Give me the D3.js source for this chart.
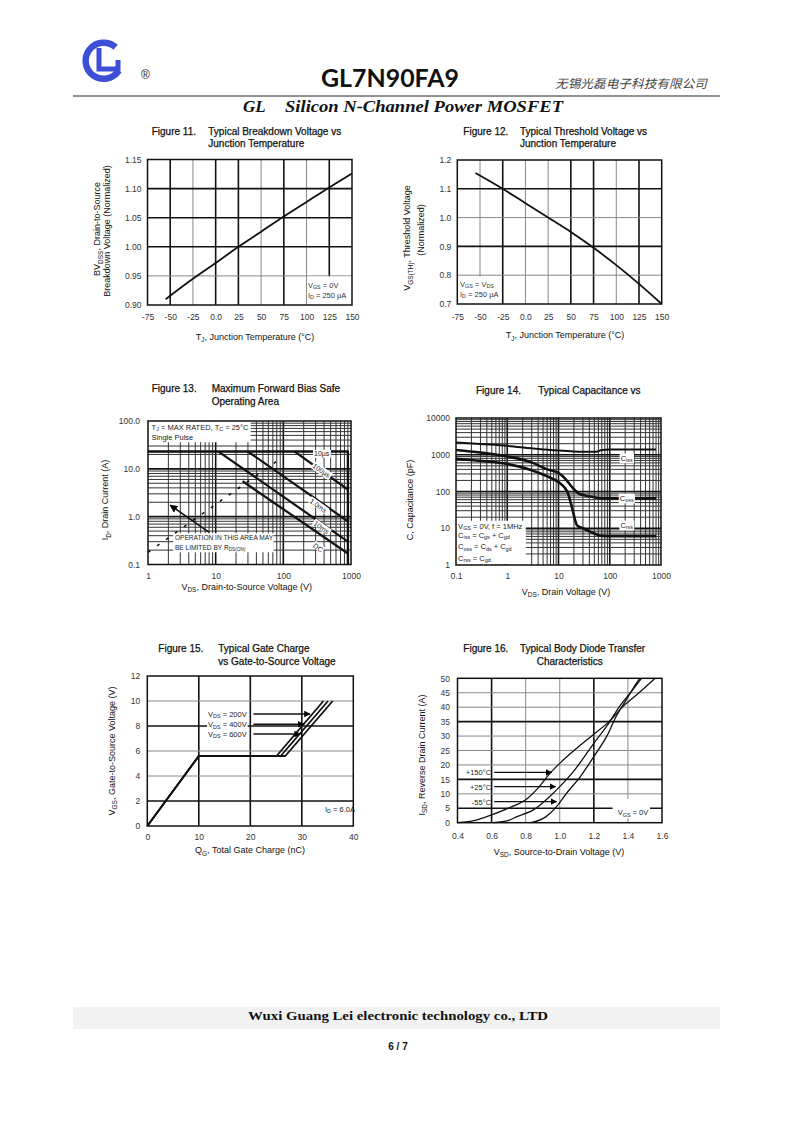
<!DOCTYPE html>
<html><head><meta charset="utf-8">
<script src="https://cdn.jsdelivr.net/npm/d3@7"></script>
<style>body{margin:0;background:#fff}svg{display:block}</style>
</head><body>
<svg id="page" width="793" height="1122"></svg>
<script>
// ---------- DATA ----------
// Figure 11
const tempTicks = [-75,-50,-25,0,25,50,75,100,125,150];
const tempTickLabels = ["-75","-50","-25","0.0","25","50","75","100","125","150"];
const bvTemp = [-55,-25,0,25,50,75,100,125,150];
const bvNorm = [0.910,0.945,0.972,1.000,1.026,1.052,1.077,1.102,1.126];
const bvTicks = [0.90,0.95,1.00,1.05,1.10,1.15];
const bvTickLabels = ["0.90","0.95","1.00","1.05","1.10","1.15"];
// Figure 12
const vthTemp = [-55,-25,0,25,50,75,100,125,150];
const vthNorm = [1.155,1.100,1.050,1.000,0.950,0.895,0.835,0.770,0.700];
const vthTicks = [0.7,0.8,0.9,1.0,1.1,1.2];
const vthTickLabels = ["0.7","0.8","0.9","1.0","1.1","1.2"];
// Figure 13
const soaXTicks = [1,10,100,1000];
const soaXTickLabels = ["1","10","100","1000"];
const soaYTicks = [0.1,1,10,100];
const soaYTickLabels = ["0.1","1.0","10.0","100.0"];
const soaLimitV = [1,900,900];
const soaLimitI = [23,23,0.1];
const soa100usV = [147,900];
const soa100usI = [23,3.7];
const soa1msV = [30,900];
const soa1msI = [23,0.8];
const soa10msV = [11,900];
const soa10msI = [23,0.3];
const soaDcV = [25,900];
const soaDcI = [5.5,0.17];
const rdsLimitV = [1,80];
const rdsLimitI = [0.18,14.5];
const soaArrowV = [8,2.13];
const soaArrowI = [0.47,1.74];
const soaLabels = ["10µs","100µs","1.0ms","10ms","DC"];
const soaLabelV = [369,369,330,369,330];
const soaLabelI = [21,9.4,1.73,0.61,0.23];
// Figure 14
const capXTicks = [0.1,1,10,100,1000];
const capXTickLabels = ["0.1","1","10","100","1000"];
const capYTicks = [1,10,100,1000,10000];
const capYTickLabels = ["1","10","100","1000","10000"];
const cissV = [0.1,0.3,1,3,10,20,40,55,70,100,300,800];
const cissC = [2150,1950,1750,1500,1300,1230,1200,1210,1350,1380,1380,1380];
const cossV = [0.1,0.3,1,3,6,10,14,17,20,25,30,45,60,100,800];
const cossC = [1350,1150,900,620,400,320,210,150,115,88,80,72,66,65,65];
const crssV = [0.1,0.3,1,3,6,10,13,15,17,19,21,23,30,50,70,100,800];
const crssC = [780,680,560,380,260,180,130,95,55,30,17,12,10,7.2,6.2,6.1,6.1];
const capLabels = ["C_{iss}","C_{oss}","C_{rss}"];
const capLabelV = [214,214,214];
const capLabelC = [817,66,12.2];
// Figure 15
const gcXTicks = [0,10,20,30,40];
const gcYTicks = [0,2,4,6,8,10,12];
const gcQ200 = [0,10,25.1,34.2];
const gcQ400 = [0,10,25.9,35.1];
const gcQ600 = [0,10,26.8,36.0];
const gcVgs = [0,5.6,5.6,10];
const gcLabels = ["V_{DS} = 200V","V_{DS} = 400V","V_{DS} = 600V"];
const gcArrowVgs = [8.96,8.14,7.36];
const gcArrowTipQ = [31.6,30.4,29.7];
// Figure 16
const sdXTicks = [0.4,0.6,0.8,1.0,1.2,1.4,1.6];
const sdXTickLabels = ["0.4","0.6","0.8","1.0","1.2","1.4","1.6"];
const sdYTicks = [0,5,10,15,20,25,30,35,40,45,50];
const sdV150 = [0.40,0.51,0.60,0.71,0.81,0.88,0.94,1.01,1.10,1.20,1.30,1.37,1.45,1.56];
const sdI150 = [0,0.9,2.7,5.3,8.4,12.5,16.9,21.1,25.8,30.6,35.6,40.2,44.2,50];
const sdV25 = [0.61,0.70,0.75,0.85,0.94,1.00,1.08,1.20,1.28,1.35,1.42,1.48];
const sdI25 = [0,0.8,2.1,4.6,9.0,12.5,17.7,27.5,33.8,40.2,45.4,50];
const sdVm55 = [0.83,0.92,0.98,1.04,1.12,1.20,1.28,1.33,1.39,1.45,1.47];
const sdIm55 = [0,2.1,5.5,10.2,15.9,22.9,30.4,36.7,42.5,48.3,50];
const sdLabels = ["+150°C","+25°C","-55°C"];
const sdArrowI = [17.4,12.5,7.3];
const sdArrowTipV = [0.953,0.975,0.982];

// ---------- HELPERS ----------
const FONT = "'Liberation Sans', Arial, sans-serif";
const svg = d3.select('#page');
const defs = svg.append('defs');
defs.append('marker').attr('id','tri').attr('viewBox','0 0 10 10')
  .attr('refX',9).attr('refY',5).attr('markerWidth',5).attr('markerHeight',5)
  .attr('orient','auto').append('path').attr('d','M0,0L10,5L0,10Z').attr('fill','#000');

function rich(t, str, fs) {
  const parts = str.split(/(_\{[^}]*\})/).filter(s => s.length);
  let shifted = false;
  parts.forEach(p => {
    if (p.startsWith('_{')) {
      t.append('tspan').attr('font-size', fs*0.72).attr('dy', fs*0.3).text(p.slice(2,-1));
      shifted = true;
    } else {
      const s = t.append('tspan').text(p);
      if (shifted) { s.attr('dy', -fs*0.3); shifted = false; }
    }
  });
}
function label(g, x, y, str, o = {}) {
  const fs = o.size || 8;
  const t = g.append('text').attr('x', x).attr('y', y)
    .attr('font-family', o.family || FONT).attr('font-size', fs)
    .attr('fill', o.fill || '#111').attr('text-anchor', o.anchor || 'start')
    .attr('dominant-baseline', 'central');
  if (o.weight) t.attr('font-weight', o.weight);
  if (o.style) t.attr('font-style', o.style);
  if (o.stroke) t.attr('stroke', o.fill || '#111').attr('stroke-width', o.stroke);
  if (o.rotate) t.attr('transform', `rotate(${o.rotate},${x},${y})`);
  if (o.len) t.attr('textLength', o.len).attr('lengthAdjust', 'spacingAndGlyphs');
  rich(t, str, fs);
  return t;
}
function bgLabel(g, x, y, str, o = {}) {
  const t = label(g, x, y, str, o);
  const b = t.node().getBBox();
  const r = g.insert('rect', () => t.node()).attr('x', b.x-1).attr('y', b.y)
    .attr('width', b.width+2).attr('height', b.height).attr('fill', '#fff');
  if (o.rotate) r.attr('transform', `rotate(${o.rotate},${x},${y})`);
  return t;
}
function gridLines(g, x, y, xs, ys, heavyX, heavyY, hw = 1.6, lw = 1, lc = '#888') {
  const [yb, yt] = y.range(), [xl, xr] = x.range();
  xs.forEach(v => g.append('line').attr('x1', x(v)).attr('x2', x(v)).attr('y1', yb).attr('y2', yt)
    .attr('stroke', heavyX(v) ? '#111' : lc).attr('stroke-width', heavyX(v) ? hw : lw));
  ys.forEach(v => g.append('line').attr('y1', y(v)).attr('y2', y(v)).attr('x1', xl).attr('x2', xr)
    .attr('stroke', heavyY(v) ? '#111' : lc).attr('stroke-width', heavyY(v) ? hw : lw));
}
function frame(g, x, y) {
  const [yb, yt] = y.range(), [xl, xr] = x.range();
  g.append('rect').attr('x', xl).attr('y', yt).attr('width', xr-xl).attr('height', yb-yt)
    .attr('fill', 'none').attr('stroke', '#111').attr('stroke-width', 1.5);
}
function axes(g, x, y, xt, xl, yt, yl, padX, padY) {
  const gx = g.append('g').attr('transform', `translate(0,${y.range()[0]})`)
    .call(d3.axisBottom(x).tickValues(xt).tickFormat(d => xl[xt.indexOf(d)]).tickSize(0).tickPadding(padX));
  const gy = g.append('g').attr('transform', `translate(${x.range()[0]},0)`)
    .call(d3.axisLeft(y).tickValues(yt).tickFormat(d => yl[yt.indexOf(d)]).tickSize(0).tickPadding(padY));
  [gx, gy].forEach(a => {
    a.select('.domain').remove();
    a.selectAll('text').attr('font-family', FONT).attr('font-size', 8.5).attr('fill', '#333');
  });
}
function box(g, x, y, v0, v1, u0, u1) {
  g.append('rect').attr('x', x(v0)).attr('y', y(u1)).attr('width', x(v1)-x(v0))
    .attr('height', y(u0)-y(u1)).attr('fill', '#fff');
}
function curve(g, x, y, xs, ys, w, c = d3.curveMonotoneX) {
  const pts = xs.map((v, i) => [v, ys[i]]);
  g.append('path').datum(pts).attr('fill', 'none').attr('stroke', '#111')
    .attr('stroke-width', w).attr('stroke-linejoin', 'round')
    .attr('d', d3.line().x(d => x(d[0])).y(d => y(d[1])).curve(c));
}
function title(g, fx, tx, y, fig, lines, l2x) {
  label(g, fx, y, fig, {size: 10, stroke: 0.25});
  label(g, tx, y, lines[0], {size: 10, stroke: 0.25});
  if (lines[1]) label(g, l2x || tx, y + 12.6, lines[1], {size: 10, stroke: 0.25});
}
function logTicks(lo, hi) {
  const out = [];
  for (let d = lo; d < hi * 0.999; d *= 10) for (let k = 1; k < 10; k++) out.push(d * k);
  out.push(hi); return out;
}
const isDecade = v => Math.abs(Math.log10(v) - Math.round(Math.log10(v))) < 1e-6;

// ---------- HEADER ----------
const hdr = svg.append('g');
const blue = '#3d4fd6';
hdr.append('path').attr('d', 'M115.6,47.3 A18,18 0 1 0 118.8,70.5')
  .attr('fill', 'none').attr('stroke', blue).attr('stroke-width', 6.5);
hdr.append('path').attr('d', 'M99,48 L99,69 L118,69 L118,60')
  .attr('fill', 'none').attr('stroke', blue).attr('stroke-width', 5);
label(hdr, 141, 75, '®', {size: 12, fill: '#222'});
label(hdr, 390, 77, 'GL7N90FA9', {size: 24, weight: 'bold', family: "Lato, 'Open Sans', sans-serif", anchor: 'middle', len: 138});
label(hdr, 555, 82, '无锡光磊电子科技有限公司', {size: 12, family: "'Noto Sans CJK SC', sans-serif", style: 'italic', fill: '#444', len: 152});
hdr.append('line').attr('x1', 73).attr('x2', 720).attr('y1', 96).attr('y2', 96).attr('stroke', '#222').attr('stroke-width', 1);
label(hdr, 243, 106, 'GL', {size: 17, weight: 'bold', style: 'italic', family: "'Liberation Serif', 'Times New Roman', serif"});
label(hdr, 285, 106, 'Silicon N-Channel Power MOSFET', {size: 17, weight: 'bold', style: 'italic', family: "'Liberation Serif', 'Times New Roman', serif", len: 278});

// ---------- FIGURE 11 ----------
{
  const g = svg.append('g');
  const x = d3.scaleLinear([-75, 150], [147.5, 352]);
  const y = d3.scaleLinear([0.90, 1.15], [305, 159.5]);
  title(g, 151.7, 208.3, 130.7, 'Figure 11.', ['Typical Breakdown Voltage vs', 'Junction Temperature']);
  const heavyX = new Set([-50, 0, 25, 75, 125]);
  const heavyY = new Set([1.00, 1.05, 1.10]);
  gridLines(g, x, y, tempTicks.slice(1, -1), bvTicks.slice(1, -1), v => heavyX.has(v), v => heavyY.has(v));
  box(g, x, y, 100.8, 150, 0.90, 0.949);
  label(g, x(101.5), y(0.935), 'V_{GS} = 0V', {size: 7.5, fill: '#333'});
  label(g, x(101.5), y(0.918), 'I_{D} = 250 µA', {size: 7.5, fill: '#333'});
  curve(g, x, y, bvTemp, bvNorm, 1.8);
  frame(g, x, y);
  axes(g, x, y, tempTicks, tempTickLabels, bvTicks, bvTickLabels, 9, 6);
  label(g, 97.3, 229, 'BV_{DSS}, Drain-to-Source', {size: 9, anchor: 'middle', rotate: -90});
  label(g, 107.3, 231, 'Breakdown Voltage (Normalized)', {size: 9, anchor: 'middle', rotate: -90});
  label(g, 255, 336.7, 'T_{J}, Junction Temperature (°C)', {size: 9, anchor: 'middle'});
}

// ---------- FIGURE 12 ----------
{
  const g = svg.append('g');
  const x = d3.scaleLinear([-75, 150], [457.3, 661.7]);
  const y = d3.scaleLinear([0.7, 1.2], [304, 160]);
  title(g, 463.3, 520, 130.7, 'Figure 12.', ['Typical Threshold Voltage vs', 'Junction Temperature']);
  const heavyX = new Set([-25, 50, 75, 125]);
  const heavyY = new Set([1.1, 0.9]);
  gridLines(g, x, y, tempTicks.slice(1, -1), vthTicks.slice(1, -1), v => heavyX.has(v), v => heavyY.has(v));
  box(g, x, y, -75, -27, 0.7, 0.795);
  label(g, x(-72), y(0.769), 'V_{GS} = V_{DS}', {size: 7.5, fill: '#333'});
  label(g, x(-72), y(0.736), 'I_{D} = 250 µA', {size: 7.5, fill: '#333'});
  curve(g, x, y, vthTemp, vthNorm, 1.8);
  frame(g, x, y);
  axes(g, x, y, tempTicks, tempTickLabels, vthTicks, vthTickLabels, 10, 6);
  label(g, 407.3, 238, 'V_{GS(TH)}, Threshold Voltage', {size: 9, anchor: 'middle', rotate: -90});
  label(g, 420.7, 230, '(Normalized)', {size: 9, anchor: 'middle', rotate: -90});
  label(g, 565, 335, 'T_{J}, Junction Temperature (°C)', {size: 9, anchor: 'middle'});
}

// ---------- FIGURE 13 ----------
{
  const g = svg.append('g');
  const x = d3.scaleLog([1, 1000], [148, 351]);
  const y = d3.scaleLog([0.1, 100], [564.5, 421]);
  title(g, 151.7, 211.7, 388.3, 'Figure 13.', ['Maximum Forward Bias Safe', 'Operating Area']);
  const xs = logTicks(1, 1000).slice(1, -1), ys = logTicks(0.1, 100).slice(1, -1);
  gridLines(g, x, y, xs, ys, isDecade, isDecade, 1.6, 1, '#333');
  box(g, x, y, 1.01, 33, 36, 99);
  label(g, x(1.13), y(76), 'T_{J} = MAX RATED, T_{C} = 25°C', {size: 7.5, fill: '#222'});
  label(g, x(1.13), y(47), 'Single Pulse', {size: 7.5, fill: '#222'});
  box(g, x, y, 2.36, 72, 0.18, 0.45);
  label(g, x(2.5), y(0.37), 'OPERATION IN THIS AREA MAY', {size: 6.6, fill: '#222'});
  label(g, x(2.5), y(0.23), 'BE LIMITED BY R_{DS(ON)}', {size: 6.6, fill: '#222'});
  const lin = d3.curveLinear;
  curve(g, x, y, soaLimitV, soaLimitI, 2.4, lin);
  curve(g, x, y, soa100usV, soa100usI, 2.2, lin);
  curve(g, x, y, soa1msV, soa1msI, 2.2, lin);
  curve(g, x, y, soa10msV, soa10msI, 2.2, lin);
  curve(g, x, y, soaDcV, soaDcI, 2.2, lin);
  g.append('path').datum(rdsLimitV.map((v, i) => [v, rdsLimitI[i]]))
    .attr('fill', 'none').attr('stroke', '#111').attr('stroke-width', 1.6).attr('stroke-dasharray', '3 8')
    .attr('d', d3.line().x(d => x(d[0])).y(d => y(d[1])));
  g.append('path').datum(soaArrowV.map((v, i) => [v, soaArrowI[i]]))
    .attr('fill', 'none').attr('stroke', '#111').attr('stroke-width', 1.6).attr('marker-end', 'url(#tri)')
    .attr('d', d3.line().x(d => x(d[0])).y(d => y(d[1])));
  soaLabels.forEach((s, i) => bgLabel(g, x(soaLabelV[i]), y(soaLabelI[i]), s,
    {size: 7, fill: '#222', anchor: 'middle', rotate: i === 0 ? 0 : 35}));
  frame(g, x, y);
  axes(g, x, y, soaXTicks, soaXTickLabels, soaYTicks, soaYTickLabels, 8.5, 8);
  label(g, 105, 500, 'I_{D}, Drain Current (A)', {size: 9, anchor: 'middle', rotate: -90});
  label(g, 246.7, 586.7, 'V_{DS}, Drain-to-Source Voltage (V)', {size: 9, anchor: 'middle'});
}

// ---------- FIGURE 14 ----------
{
  const g = svg.append('g');
  const x = d3.scaleLog([0.1, 1000], [456, 661]);
  const y = d3.scaleLog([1, 10000], [565, 418]);
  title(g, 476, 538.3, 390, 'Figure 14.', ['Typical Capacitance vs']);
  const xs = logTicks(0.1, 1000).slice(1, -1), ys = logTicks(1, 10000).slice(1, -1);
  gridLines(g, x, y, xs, ys, isDecade, isDecade, 1.6, 1, '#333');
  box(g, x, y, 0.101, 2.3, 1.05, 16);
  label(g, x(0.11), y(11.5), 'V_{GS} = 0V, f = 1MHz', {size: 7.5, fill: '#222'});
  label(g, x(0.11), y(6.6), 'C_{iss} = C_{gs} + C_{gd}', {size: 7.5, fill: '#222'});
  label(g, x(0.11), y(3.2), 'C_{oss} = C_{ds} + C_{gd}', {size: 7.5, fill: '#222'});
  label(g, x(0.11), y(1.55), 'C_{rss} = C_{gd}', {size: 7.5, fill: '#222'});
  curve(g, x, y, cissV, cissC, 2.0);
  curve(g, x, y, cossV, cossC, 2.6);
  curve(g, x, y, crssV, crssC, 2.6);
  capLabels.forEach((s, i) => bgLabel(g, x(capLabelV[i]), y(capLabelC[i]), s, {size: 7.5, fill: '#222', anchor: 'middle'}));
  frame(g, x, y);
  axes(g, x, y, capXTicks, capXTickLabels, capYTicks, capYTickLabels, 8, 6);
  label(g, 410, 500, 'C, Capacitance (pF)', {size: 9, anchor: 'middle', rotate: -90});
  label(g, 566, 591.7, 'V_{DS}, Drain Voltage (V)', {size: 9, anchor: 'middle'});
}

// ---------- FIGURE 15 ----------
{
  const g = svg.append('g');
  const x = d3.scaleLinear([0, 40], [147.3, 353.3]);
  const y = d3.scaleLinear([0, 12], [826, 676]);
  title(g, 158.3, 218.3, 648.3, 'Figure 15.', ['Typical Gate Charge', 'vs Gate-to-Source Voltage']);
  const heavyX = new Set([10, 20, 30]);
  const heavyY = new Set([2, 8]);
  gridLines(g, x, y, gcXTicks.slice(1, -1), gcYTicks.slice(1, -1), v => heavyX.has(v), v => heavyY.has(v));
  const lin = d3.curveLinear;
  curve(g, x, y, gcQ200, gcVgs, 1.8, lin);
  curve(g, x, y, gcQ400, gcVgs, 1.8, lin);
  curve(g, x, y, gcQ600, gcVgs, 1.8, lin);
  gcLabels.forEach((s, i) => {
    bgLabel(g, x(11.8), y(gcArrowVgs[i]), s, {size: 7.5, fill: '#222'});
    g.append('line').attr('x1', x(20.6)).attr('x2', x(gcArrowTipQ[i]))
      .attr('y1', y(gcArrowVgs[i])).attr('y2', y(gcArrowVgs[i]))
      .attr('stroke', '#111').attr('stroke-width', 1.3).attr('marker-end', 'url(#tri)');
  });
  label(g, x(34.5), y(1.35), 'I_{D} = 6.0A', {size: 7.5, fill: '#222'});
  frame(g, x, y);
  axes(g, x, y, gcXTicks, gcXTicks.map(String), gcYTicks, gcYTicks.map(String), 7.5, 7);
  label(g, 111.7, 751, 'V_{GS}, Gate-to-Source Voltage (V)', {size: 9, anchor: 'middle', rotate: -90});
  label(g, 250, 850, 'Q_{G}, Total Gate Charge (nC)', {size: 9, anchor: 'middle'});
}

// ---------- FIGURE 16 ----------
{
  const g = svg.append('g');
  const x = d3.scaleLinear([0.4, 1.6], [457.5, 662]);
  const y = d3.scaleLinear([0, 50], [822.7, 678.3]);
  title(g, 463.3, 520, 648.3, 'Figure 16.', ['Typical Body Diode Transfer', 'Characteristics'], 536.7);
  const heavyX = new Set([0.6, 1.2]);
  const heavyY = new Set([5, 15, 35]);
  gridLines(g, x, y, sdXTicks.slice(1, -1), sdYTicks.slice(1, -1), v => heavyX.has(v), v => heavyY.has(v));
  box(g, x, y, 1.31, 1.53, 1.5, 8.2);
  label(g, x(1.34), y(3.6), 'V_{GS} = 0V', {size: 7.5, fill: '#222'});
  curve(g, x, y, sdV150, sdI150, 1.3);
  curve(g, x, y, sdV25, sdI25, 1.3);
  curve(g, x, y, sdVm55, sdIm55, 1.3);
  sdLabels.forEach((s, i) => {
    label(g, x(0.597), y(sdArrowI[i]), s, {size: 7.5, fill: '#222', anchor: 'end'});
    g.append('line').attr('x1', x(0.615)).attr('x2', x(sdArrowTipV[i]))
      .attr('y1', y(sdArrowI[i])).attr('y2', y(sdArrowI[i]))
      .attr('stroke', '#111').attr('stroke-width', 1.3).attr('marker-end', 'url(#tri)');
  });
  frame(g, x, y);
  axes(g, x, y, sdXTicks, sdXTickLabels, sdYTicks, sdYTicks.map(String), 10, 7.5);
  label(g, 421.7, 755, 'I_{SD}, Reverse Drain Current (A)', {size: 9, anchor: 'middle', rotate: -90});
  label(g, 559, 851.7, 'V_{SD}, Source-to-Drain Voltage (V)', {size: 9, anchor: 'middle'});
}

// ---------- FOOTER ----------
{
  const g = svg.append('g');
  g.append('rect').attr('x', 73).attr('y', 1007).attr('width', 647).attr('height', 22).attr('fill', '#f2f2f2');
  label(g, 398, 1016, 'Wuxi Guang Lei electronic technology co., LTD',
    {size: 11.5, weight: 'bold', family: "'Liberation Serif', 'Times New Roman', serif", anchor: 'middle', len: 300});
  label(g, 398, 1046, '6 / 7', {size: 10, weight: 'bold', family: "'Liberation Sans Narrow', 'Liberation Sans', sans-serif", anchor: 'middle'});
}
</script>
</body></html>
